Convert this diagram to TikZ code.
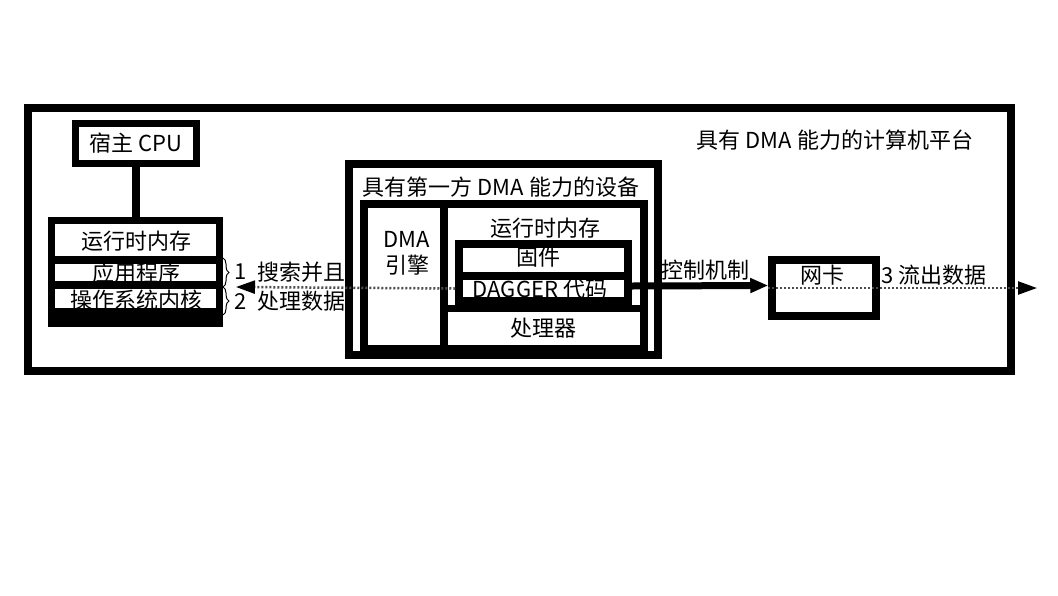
\documentclass[tikz,border=0pt]{standalone}
\usepackage{fontspec}
\setmainfont{Noto Sans CJK SC}
\usetikzlibrary{arrows.meta,decorations.pathreplacing}
\tikzset{
  box/.style={draw=black,line width=7.5pt,rectangle,inner sep=0pt,fill=none},
  lbl/.style={inner sep=1pt,font=\fontsize{22}{25}\selectfont},
  bar/.style={line width=7.5pt},
  flow/.style={line width=2.5pt,draw=black!70,dash pattern=on 2pt off 2pt,-{Triangle[length=19pt,width=13pt,fill=black,color=black]}},
  ctrl/.style={line width=7pt,-{Triangle[length=18pt,width=14pt]}},
  brc/.style={line width=1pt,decorate,decoration={brace,amplitude=6pt}}
}
\begin{document}
\begin{tikzpicture}[x=1pt,y=-1pt]
\useasboundingbox (0,0) rectangle (1058,595);
% platform
\node[box,minimum width=983pt,minimum height=263pt] (plat) at (519.5,239.5) {};
\node[lbl] (platlbl) at (835,140) {具有 DMA 能力的计算机平台};
% host cpu
\node[box,minimum width=121pt,minimum height=40pt] (cpu) at (136,143.5) {};
\node[lbl] (cpulbl) at (136,143) {宿主 CPU};
% host memory
\node[box,minimum width=168pt,minimum height=103pt] (hmem) at (135.5,272) {};
\node[box,minimum width=168pt,minimum height=25pt] (app) at (135.5,272.5) {};
\node[box,minimum width=168pt,minimum height=27pt] (kern) at (135.5,298.5) {};
\fill[black] (48,310) rectangle (223,327);
\node[lbl] (hmemlbl) at (136,241) {运行时内存};
\node[lbl] (applbl) at (136,273) {应用程序};
\node[lbl] (kernlbl) at (136,300) {操作系统内核};
\draw[bar] (cpu.south) -- (cpu.south |- hmem.north);
% braces
\coordinate (btop) at (223,258);
\coordinate (bmid) at (223,287);
\coordinate (bbot) at (223,315);
\coordinate (tip) at (236,287);
\draw[brc] (btop) -- (bmid);
\draw[brc] (bmid) -- (bbot);
\node[lbl] (n1) at (241,272) {1};
\node[lbl] (n2) at (241,302) {2};
\node[lbl] (s1) at (301,272) {搜索并且};
\node[lbl] (s2) at (301,301) {处理数据};
% device
\node[box,minimum width=309pt,minimum height=191pt] (dev) at (503.5,259.5) {};
\node[lbl] (devlbl) at (501,187) {具有第一方 DMA 能力的设备};
\node[box,minimum width=280pt,minimum height=145pt] (inner) at (504,276.5) {};
\draw[bar] (444,204) -- (444,349);
\node[lbl] (dma1) at (407,239) {DMA};
\node[lbl] (dma2) at (407,265) {引擎};
\node[lbl] (rmemlbl) at (545,228) {运行时内存};
\node[box,minimum width=169pt,minimum height=57pt] (fw) at (543.5,272.5) {};
\node[box,minimum width=169pt,minimum height=25pt] (dagger) at (543.5,288.5) {};
\node[lbl] (fwlbl) at (538,257) {固件};
\node[lbl] (daglbl) at (540,289) {DAGGER 代码};
\node[box,minimum width=200pt,minimum height=40.5pt] (proc) at (544,328.75) {};
\node[lbl] (proclbl) at (543,328) {处理器};
% data flow to host
\draw[flow] (dagger.west) -- (tip);
% NIC
\node[box,minimum width=104pt,minimum height=56pt] (nic) at (824,288) {};
\node[lbl] (niclbl) at (822,275) {网卡};
\draw[ctrl] ([yshift=2.5pt]dagger.east) -- ([yshift=2.5pt]nic.west);
\node[lbl] (ctrllbl) at (705,270) {控制机制};
\coordinate (out) at (1037,288);
\draw[flow] (nic.west) -- (out);
\node[lbl] (outlbl) at (934,275) {3 流出数据};
\end{tikzpicture}
\end{document}
